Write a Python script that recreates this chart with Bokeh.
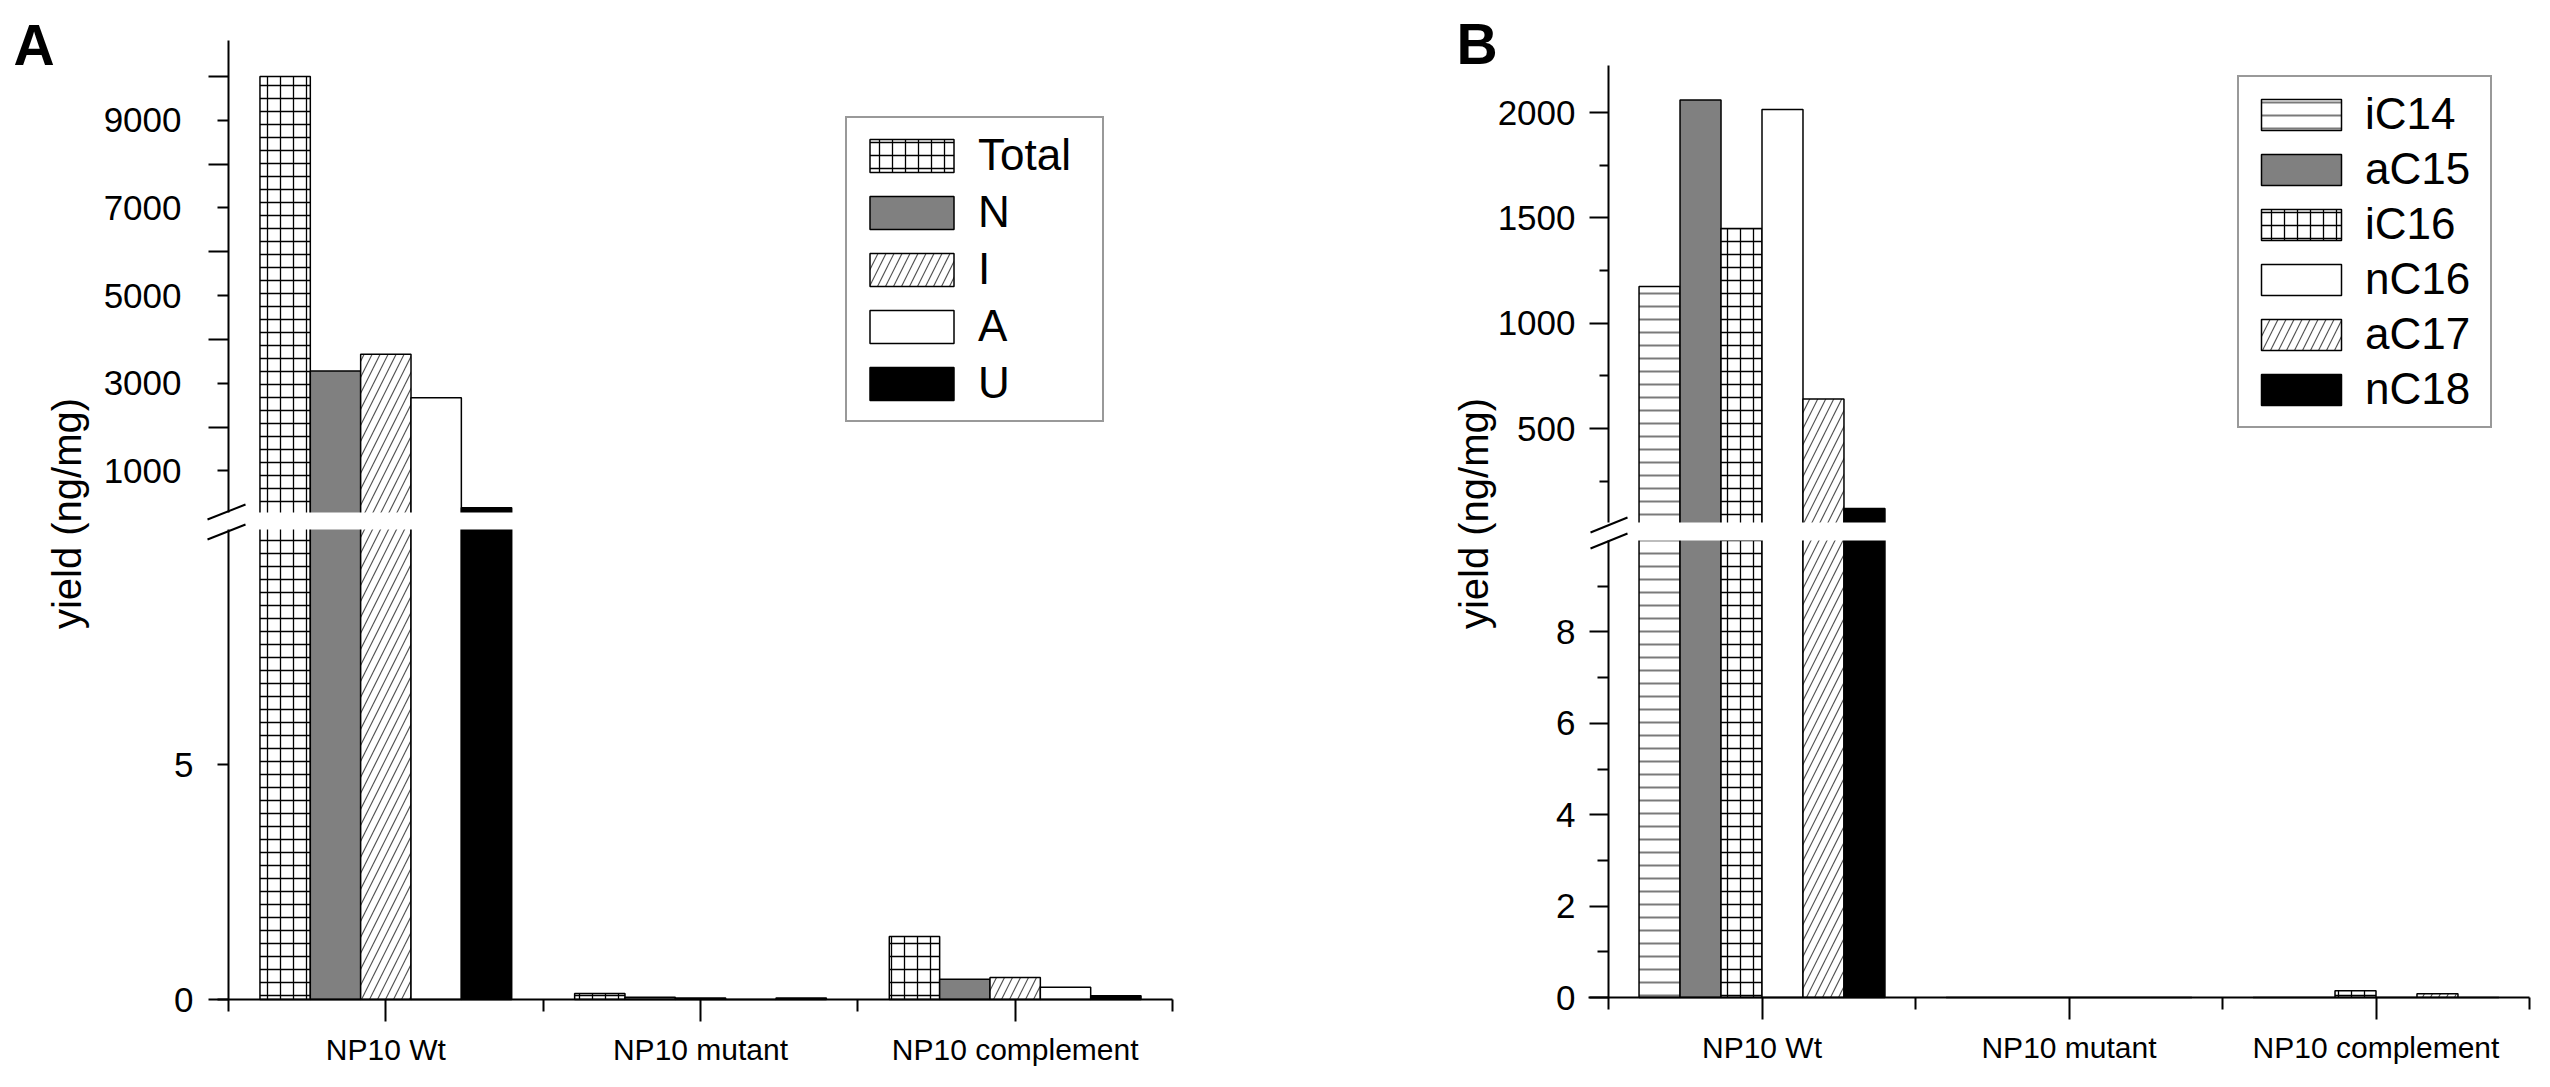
import math
from bokeh.plotting import figure
from bokeh.models import (Range1d, FixedTicker, Legend, LegendItem, Label, Arrow,
                          LinearAxis, BoxAnnotation)
from bokeh.layouts import row
from bokeh.embed import file_html
from bokeh.resources import INLINE

# ---------------- data ----------------
categories = ["NP10 Wt", "NP10 mutant", "NP10 complement"]

a_series = ["Total", "N", "I", "A", "U"]
a_total = [10000, 0.13, 1.34]
a_n = [3280, 0.05, 0.43]
a_i = [3660, 0.03, 0.47]
a_a = [2670, 0.0, 0.26]
a_u = [160, 0.03, 0.08]

b_series = ["iC14", "aC15", "iC16", "nC16", "aC17", "nC18"]
b_ic14 = [1175, 0, 0]
b_ac15 = [2060, 0, 0]
b_ic16 = [1450, 0, 0.15]
b_nc16 = [2015, 0, 0]
b_ac17 = [640, 0, 0.08]
b_nc18 = [120, 0, 0]

a_upper_ticks = [1000, 3000, 5000, 7000, 9000]
a_upper_minor = [2000, 4000, 6000, 8000, 10000]
a_lower_ticks = [0, 5]
a_lower_minor = []
b_upper_ticks = [500, 1000, 1500, 2000]
b_upper_minor = [250, 750, 1250, 1750]
b_lower_ticks = [0, 2, 4, 6, 8]
b_lower_minor = [1, 3, 5, 7, 9]

# value ranges of the two segments of each broken axis
a_upper_seg = (50, 10820)
a_lower_seg = (0, 10)
b_upper_seg = (54, 2224)
b_lower_seg = (0, 10)

y_label = "yield (ng/mg)"

# ---------------- styles ----------------
FONT = "Liberation Sans"
TICK_FS = "35px"
STY = {
    "cross": dict(fill_color="white", hatch_pattern="cross", hatch_color="black",
                  hatch_scale=13, hatch_weight=1.3),
    "gray": dict(fill_color="#808080"),
    "diag": dict(fill_color="white", hatch_pattern="right_diagonal_line",
                 hatch_color="#555555", hatch_scale=16, hatch_weight=1.2),
    "white": dict(fill_color="white"),
    "black": dict(fill_color="black"),
    "hline": dict(fill_color="white", hatch_pattern="horizontal_line",
                  hatch_color="#7a7a7a", hatch_scale=13, hatch_weight=2),
}
a_styles = ["cross", "gray", "diag", "white", "black"]
b_styles = ["hline", "gray", "cross", "white", "diag", "black"]

PAGE_TOP, TOTAL_H = 8, 1068


def style_y(ax, ticks, minor, tick_out, minor_out, standoff, bounds):
    ax.ticker = FixedTicker(ticks=ticks, minor_ticks=minor)
    ax.bounds = bounds
    ax.fixed_location = 0.5
    ax.major_tick_out = tick_out
    ax.major_tick_in = 0
    ax.minor_tick_out = minor_out
    ax.minor_tick_in = 0
    ax.major_label_standoff = standoff
    ax.major_label_text_font = FONT
    ax.major_label_text_font_size = TICK_FS
    ax.major_label_text_color = "black"
    ax.axis_line_width = 2
    ax.axis_line_color = "black"
    ax.major_tick_line_width = 2
    ax.major_tick_line_color = "black"
    ax.minor_tick_line_width = 2
    ax.minor_tick_line_color = "black" if minor else None


def style_x(ax, bounds):
    ax.ticker = FixedTicker(ticks=[1, 2, 3], minor_ticks=[0.5, 1.5, 2.5, 3.5])
    ax.major_label_overrides = {i + 1: c for i, c in enumerate(categories)}
    ax.bounds = bounds
    ax.fixed_location = 0
    ax.major_tick_out = 22
    ax.major_tick_in = 0
    ax.minor_tick_out = 12
    ax.minor_tick_in = 0
    ax.major_label_standoff = 11
    ax.major_label_text_font = FONT
    ax.major_label_text_font_size = "30px"
    ax.major_label_text_color = "black"
    ax.axis_line_width = 2
    ax.axis_line_color = "black"
    ax.major_tick_line_width = 2
    ax.major_tick_line_color = "black"
    ax.minor_tick_line_width = 2
    ax.minor_tick_line_color = "black"


def add_bars(p, series_vals, styles, width, cap=None, range_name="default"):
    n = len(series_vals)
    rends = []
    for k, (vals, st) in enumerate(zip(series_vals, styles)):
        xs = [i + 1 + (k - (n - 1) / 2) * width for i in range(len(categories))]
        tops = [min(v, cap) for v in vals] if cap is not None else list(vals)
        r = p.vbar(x=xs, top=tops, bottom=0, width=width, line_color="black",
                   line_width=1.5, y_range_name=range_name, **STY[st])
        rends.append(r)
    return rends


def make_legend(rends, names, glyph_w, glyph_h, spacing, label_w, location):
    return Legend(items=[LegendItem(label=n, renderers=[r]) for n, r in zip(names, rends)],
                  location=location, margin=0, glyph_width=glyph_w,
                  glyph_height=glyph_h, spacing=spacing, padding=12,
                  label_standoff=14, label_width=label_w, label_height=glyph_h,
                  label_text_font=FONT, label_text_font_size="44px",
                  label_text_color="black", border_line_color="#333333",
                  border_line_width=2, background_fill_color="white",
                  background_fill_alpha=1.0)


def build_panel(x0, width, axis_px, right_px, up_top, up_bot, lo_top, base,
                upper_seg, lower_seg, vals, styles, bar_w,
                up_ticks, up_minor, up_out, up_mout, up_stand,
                lo_ticks, lo_minor, lo_out, lo_mout, lo_stand,
                names, legend_box, slash_a, slash_b, ylab_xy, letter, letter_xy):
    ppu = (right_px - axis_px) / 3.0
    upp = (upper_seg[1] - upper_seg[0]) / float(up_bot - up_top)
    lppu = (base - lo_top) / float(lower_seg[1] - lower_seg[0])
    xd = lambda px: 0.5 + (px - axis_px) / ppu
    yu = lambda py: upper_seg[0] + (up_bot - py) * upp
    yl = lambda py: lower_seg[0] + (base - py) / lppu
    bottom_px = PAGE_TOP + TOTAL_H

    p = figure(width=width, height=TOTAL_H,
               x_range=Range1d(xd(x0), xd(x0 + width)),
               y_range=Range1d(yl(bottom_px), yl(PAGE_TOP)),
               output_backend="svg", toolbar_location=None, min_border=0)
    p.extra_y_ranges = {"up": Range1d(yu(bottom_px), yu(PAGE_TOP))}
    p.xgrid.visible = False
    p.ygrid.visible = False
    p.outline_line_color = None
    p.background_fill_color = "white"
    p.border_fill_color = "white"

    rends = add_bars(p, vals, styles, bar_w, range_name="up")
    add_bars(p, vals, styles, bar_w, cap=yl((up_bot + lo_top) / 2.0))
    # white band of the axis break
    p.add_layout(BoxAnnotation(left=xd(axis_px + 2), bottom=lower_seg[1],
                               top=yl(up_bot), fill_color="white", fill_alpha=1.0,
                               line_color=None))

    style_y(p.yaxis[0], lo_ticks, lo_minor, lo_out, lo_mout, lo_stand, lower_seg)
    up_axis = LinearAxis(y_range_name="up")
    style_y(up_axis, up_ticks, up_minor, up_out, up_mout, up_stand, upper_seg)
    p.add_layout(up_axis, "left")
    style_x(p.xaxis[0], (xd(axis_px - 20), 3.5))

    lx, ly_bottom = legend_box
    p.add_layout(make_legend(rends, names, *LEG[letter],
                             (lx - x0, bottom_px - ly_bottom)))

    for (ax0, ay0, ax1, ay1) in (slash_a, slash_b):
        p.add_layout(Arrow(x_start=xd(axis_px + ax0), y_start=yl(ay0),
                           x_end=xd(axis_px + ax1), y_end=yl(ay1), start=None,
                           end=None, line_color="black", line_width=2))

    p.add_layout(Label(x=xd(ylab_xy[0]), y=yl(ylab_xy[1]), text=y_label,
                       angle=math.pi / 2, text_align="center", text_baseline="middle",
                       text_font=FONT, text_font_size="40px", text_color="black"))
    p.add_layout(Label(x=xd(letter_xy[0]), y=yl(letter_xy[1]), text=letter,
                       text_align="left", text_baseline="alphabetic", text_font=FONT,
                       text_font_style="bold", text_font_size="57px",
                       text_color="black"))
    return p


# legend geometry: glyph width, glyph height, spacing, min label width
LEG = {"A": (105, 41, 7, 112), "B": (100, 39, 5, 113)}

A_X0, A_W = 8, 1252
B_X0, B_W = A_X0 + A_W, 1280

pA = build_panel(A_X0, A_W, 236, 1180, 48, 520, 537, 1007,
                 a_upper_seg, a_lower_seg, [a_total, a_n, a_i, a_a, a_u], a_styles, 0.16,
                 a_upper_ticks, a_upper_minor, 11, 20, 27,
                 a_lower_ticks, a_lower_minor, 11, 0, 24,
                 a_series, (853, 430), (-21, 527, 17, 512), (-21, 547, 17, 532),
                 (74, 521), "A", (21, 52))

pB = build_panel(B_X0, B_W, 1616, 2537, 73, 530, 548, 1005,
                 b_upper_seg, b_lower_seg,
                 [b_ic14, b_ac15, b_ic16, b_nc16, b_ac17, b_nc18], b_styles, 0.1335,
                 b_upper_ticks, b_upper_minor, 19, 9, 14,
                 b_lower_ticks, b_lower_minor, 19, 11, 14,
                 b_series, (2245, 436), (-18, 540, 19, 525), (-18, 556, 19, 541),
                 (1481, 521), "B", (1464, 51))

layout = row(pA, pB)
open("out.html", "w").write(file_html(layout, INLINE, title="yield"))
